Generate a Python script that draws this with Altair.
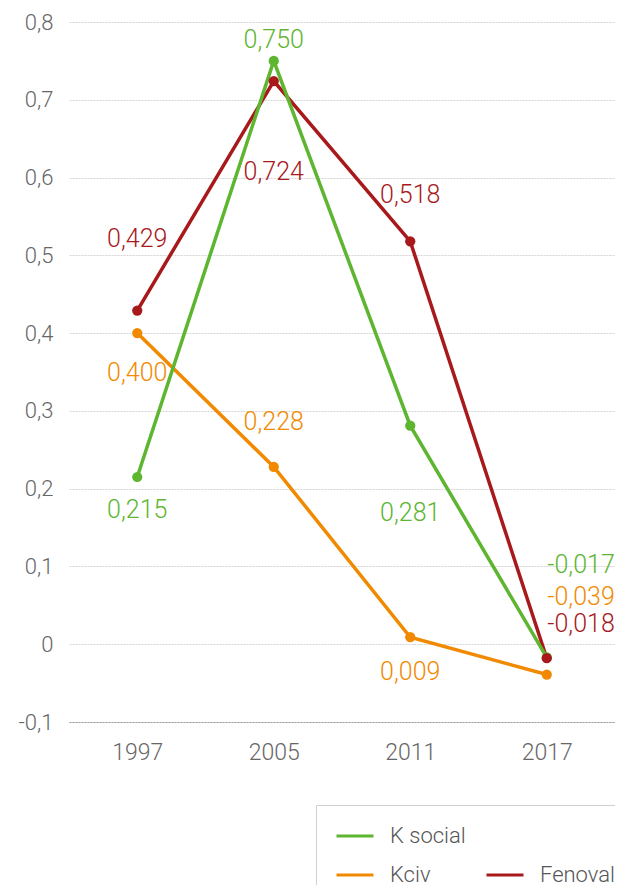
import altair as alt
import pandas as pd

years = ["1997", "2005", "2011", "2017"]
series_names = ["K social", "Kciv", "Fenoval"]
k_social = [0.215, 0.750, 0.281, -0.017]
kciv = [0.400, 0.228, 0.009, -0.039]
fenoval = [0.429, 0.724, 0.518, -0.018]

# label placement offsets in pixels (dx, dy) per point
k_social_off = [(0, 33), (0, -21), (0, 87), (68, -92)]
kciv_off = [(0, 40), (0, -45), (0, 35), (68, -78)]
fenoval_off = [(0, -72), (0, 91), (0, -46), (68, -34)]

colors = {"K social": "#5db530", "Kciv": "#f18a00", "Fenoval": "#a8191b"}
FONT = "Roboto"

rows = []
for name, vals, offs in [("K social", k_social, k_social_off),
                         ("Kciv", kciv, kciv_off),
                         ("Fenoval", fenoval, fenoval_off)]:
    for y, v, (dx, dy) in zip(years, vals, offs):
        rows.append({"year": y, "series": name, "value": v,
                     "label": f"{v:.3f}".replace(".", ","),
                     "dx": dx, "dy": dy})
df = pd.DataFrame(rows)
# draw order for lines: Fenoval at bottom, K social on top
df_lines = pd.concat([df[df.series == "Fenoval"], df[df.series == "Kciv"],
                      df[df.series == "K social"]]).reset_index(drop=True)

# legend grid fills column by column: col 1 = K social, Kciv; col 2 = (blank), Fenoval
legend_domain = ["K social", "Kciv", "zz_blank", "Fenoval"]
legend_range = [colors["K social"], colors["Kciv"], "#ffffff", colors["Fenoval"]]
color_scale = alt.Scale(domain=legend_domain, range=legend_range)

x = alt.X("year:O", scale=alt.Scale(type="point", padding=0.5),
          axis=alt.Axis(title=None, labelAngle=0, ticks=False, labelFontSize=23,
                        labelColor="#666666", labelFont=FONT, labelFontWeight=300,
                        labelPadding=19, domain=True, domainColor="#9a9a9a",
                        domainDash=[2, 1], domainWidth=1, grid=False))
y = alt.Y("value:Q", scale=alt.Scale(domain=[-0.1, 0.8], nice=False, zero=False),
          axis=alt.Axis(title=None, values=[-0.1, 0, 0.1, 0.2, 0.3, 0.4, 0.5, 0.6, 0.7, 0.8],
                        labelExpr="replace(replace(format(datum.value, '.1~f'), '.', ','), '\u2212', '-')",
                        ticks=False, domain=False, labelFontSize=22, labelColor="#666666",
                        labelFont=FONT, labelFontWeight=300, labelPadding=16, grid=True,
                        gridColor="#d4d4d4", gridDash=[2, 1], gridWidth=1))

lines = alt.Chart(df_lines).mark_line(strokeWidth=3.5).encode(
    x=x, y=y,
    color=alt.Color("series:N", scale=color_scale,
                    legend=alt.Legend(title=None, orient="none", legendX=247, legendY=783,
                                      columns=2, values=legend_domain,
                                      symbolType="stroke", symbolSize=1369,
                                      symbolStrokeWidth=3, symbolOffset=8,
                                      labelFontSize=22,
                                      labelColor="#555555", labelFont=FONT,
                                      labelFontWeight=300,
                                      labelExpr="datum.label == 'zz_blank' ? '' : datum.label",
                                      labelOffset=15, strokeColor="#d0d0d0",
                                      padding=11, rowPadding=8, columnPadding=11,
                                      symbolOpacity=1)),
)

points = alt.Chart(df).mark_circle(size=105, opacity=1).encode(
    x=x, y=y, color=alt.Color("series:N", scale=color_scale, legend=None),
)

text_layers = []
for i, r in df.iterrows():
    sub = df.iloc[[i]]
    align = "right" if r["dx"] > 0 else "center"
    text_layers.append(
        alt.Chart(sub).mark_text(fontSize=25, font=FONT, fontWeight=300, baseline="middle",
                                 align=align, dx=int(r["dx"]), dy=int(r["dy"])).encode(
            x=x, y=y, text="label:N",
            color=alt.Color("series:N", scale=color_scale, legend=None),
        )
    )

chart = alt.layer(lines, points, *text_layers).properties(
    width=546, height=700,
    autosize=alt.AutoSizeParams(type="none"),
    padding={"left": 61, "top": 14, "right": 0, "bottom": 180},
).configure_view(stroke=None)

chart.save("out.html", embed_options={"renderer": "svg", "actions": False})
